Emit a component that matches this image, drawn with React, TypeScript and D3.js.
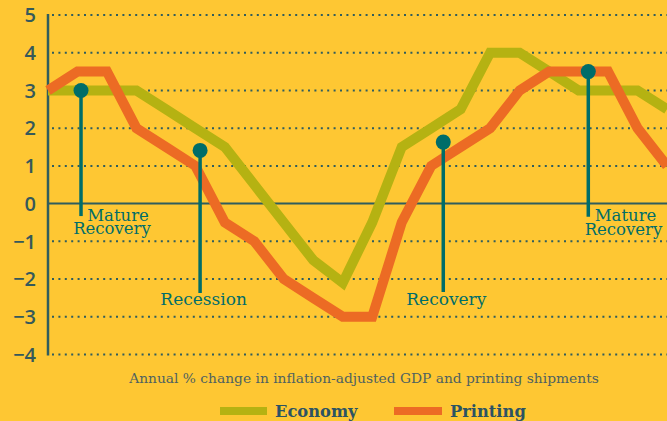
import React from "react";
import * as d3 from "d3";

const yTicks = [5, 4, 3, 2, 1, 0, -1, -2, -3, -4];
const economy = [3, 3, 3, 3, 2.5, 2, 1.5, 0.5, -0.5, -1.5, -2.1, -0.5, 1.5, 2, 2.5, 4, 4, 3.5, 3, 3, 3, 2.5];
const printing = [3, 3.5, 3.5, 2, 1.5, 1, -0.5, -1, -2, -2.5, -3, -3, -0.5, 1, 1.5, 2, 3, 3.5, 3.5, 3.5, 2, 1];
const annLabels = [["Mature", "Recovery"], ["Recession"], ["Recovery"], ["Mature", "Recovery"]];
const annX = [1.12, 5.16, 13.41, 18.33];
const annTop = [3, 1.41, 1.63, 3.5];
const annBottom = [-0.33, -2.37, -2.34, -0.35];
const caption = "Annual % change in inflation-adjusted GDP and printing shipments";
const legendNames = ["Economy", "Printing"];

const W = 667, H = 421;
const BG = "#FEC733";
const ECO = "#B5B212";
const PRI = "#EC6B24";
const TEAL = "#006D69";
const AXIS = "#2F5D5E";
const SLAB = "'DejaVu Serif', serif";

export default function App() {
  const x = d3.scaleLinear().domain([0, economy.length - 1]).range([48, 667]);
  const y = d3.scaleLinear().domain([-4, 5]).range([354.5, 15]);
  const line = d3.line<number>().x((_, i) => x(i)).y(d => y(d)).curve(d3.curveLinear);

  return (
    <svg width={W} height={H} style={{ position: "absolute", left: 0, top: 0, background: BG }}>
      <rect x={0} y={0} width={W} height={H} fill={BG} />
      {yTicks.map(t => (
        <g key={t}>
          {t !== 0 && (
            <line x1={52} x2={W} y1={y(t)} y2={y(t)} stroke={AXIS} strokeWidth={2}
              strokeDasharray="2 4.4" />
          )}
          <text x={36} y={y(t)} dy="0.36em" textAnchor="end" fill="#35595B"
            fontFamily="'Open Sans', sans-serif" fontWeight={600} fontSize={20}>
            {t < 0 ? "\u2212" + Math.abs(t) : String(t)}
          </text>
        </g>
      ))}
      <line x1={48} x2={W} y1={y(0)} y2={y(0)} stroke={AXIS} strokeWidth={2} />
      <line x1={48} x2={48} y1={y(5) - 1} y2={y(-4) + 1} stroke={AXIS} strokeWidth={2.5} />
      <path d={line(economy) || ""} fill="none" stroke={ECO} strokeWidth={10} strokeLinejoin="miter" />
      <path d={line(printing) || ""} fill="none" stroke={PRI} strokeWidth={10} strokeLinejoin="miter" />
      {annX.map((ax, i) => (
        <g key={i}>
          <line x1={x(ax)} x2={x(ax)} y1={y(annTop[i])} y2={y(annBottom[i])} stroke={TEAL} strokeWidth={3.5} />
          <circle cx={x(ax)} cy={y(annTop[i])} r={7.5} fill={TEAL} />
        </g>
      ))}
      {/* labels */}
      <text fill={TEAL} fontFamily={SLAB} fontSize={16.5}>
        <tspan x={118} y={220.5} textAnchor="middle">{annLabels[0][0]}</tspan>
        <tspan x={112} y={234} textAnchor="middle">{annLabels[0][1]}</tspan>
      </text>
      <text x={x(annX[1]) + 3.5} y={305} textAnchor="middle" fill={TEAL} fontFamily={SLAB} fontSize={17}>{annLabels[1][0]}</text>
      <text x={x(annX[2]) + 3} y={305} textAnchor="middle" fill={TEAL} fontFamily={SLAB} fontSize={17}>{annLabels[2][0]}</text>
      <text fill={TEAL} fontFamily={SLAB} fontSize={16.5}>
        <tspan x={625.5} y={220.5} textAnchor="middle">{annLabels[3][0]}</tspan>
        <tspan x={623.5} y={235} textAnchor="middle">{annLabels[3][1]}</tspan>
      </text>
      <text x={364} y={383} textAnchor="middle" fill="#4F6260" fontFamily={SLAB} fontSize={13.8}>{caption}</text>
      <rect x={220} y={407} width={47} height={8} fill={ECO} />
      <text x={275} y={417} fill="#2C5363" fontFamily={SLAB} fontWeight="bold" fontSize={16.3}>{legendNames[0]}</text>
      <rect x={394} y={407} width={48} height={8} fill={PRI} />
      <text x={450} y={417} fill="#2C5363" fontFamily={SLAB} fontWeight="bold" fontSize={16.3}>{legendNames[1]}</text>
    </svg>
  );
}
